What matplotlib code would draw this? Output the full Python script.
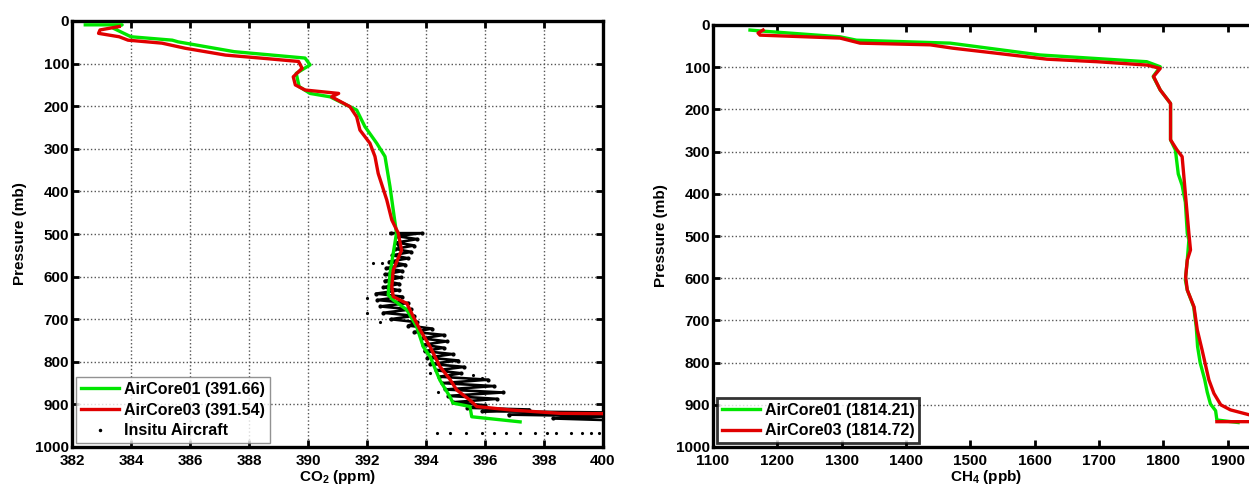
import numpy as np
import matplotlib
matplotlib.use("Agg")
import matplotlib.pyplot as plt

plt.rcParams['font.family'] = ['Liberation Sans', 'DejaVu Sans']
plt.rcParams['font.weight'] = 'bold'
plt.rcParams['mathtext.fontset'] = 'custom'
plt.rcParams['mathtext.rm'] = 'Liberation Sans:bold'
plt.rcParams['mathtext.default'] = 'rm'

GREEN = '#00e600'
RED = '#e00000'

# ---- CO2 panel ----
co2_ac01 = [382.45, 383.7, 383.4, 384.0, 385.4, 385.6, 387.5, 389.9, 390.07, 389.6,
            389.7, 390.07, 390.75, 391.65, 391.93, 392.33, 392.61, 392.78, 392.89, 393.0,
            392.89, 392.78, 392.72, 392.89, 393.35, 393.68, 393.91, 394.14, 394.47, 394.81,
            394.92, 395.49, 395.55, 397.19]
p_co2_ac01 = [9, 9, 17, 37, 45, 49, 72, 87, 103, 123,
              154, 170, 178, 209, 248, 287, 318, 389, 444, 498,
              545, 592, 643, 655, 678, 717, 765, 788, 843, 882,
              897, 905, 929, 941]

co2_ac03 = [383.6, 382.95, 382.9, 383.6, 383.9, 385.05, 385.84, 387.2, 388.55, 389.68,
            389.8, 389.5, 389.57, 389.9, 391.04, 390.8, 391.42, 391.65, 391.76, 392.1,
            392.27, 392.38, 392.67, 392.84, 393.06, 393.17, 392.89, 392.84, 392.89, 393.35,
            393.57, 393.8, 394.14, 394.47, 394.8, 395.04, 395.49, 395.72, 396.85, 398.54,
            400.5]
p_co2_ac03 = [13, 21, 29, 37, 45, 52, 64, 80, 88, 95,
              111, 131, 150, 162, 170, 178, 201, 225, 256, 287,
              318, 358, 420, 467, 498, 538, 585, 624, 647, 663,
              694, 725, 765, 811, 840, 866, 890, 905, 913, 921,
              922]

# aircraft track (porpoising profile, read as a zig-zag band)
co2_air = [392.8, 393.85, 393.0, 393.7, 393.0, 393.6, 392.95, 393.5, 392.85, 393.4,
           392.75, 393.3, 392.65, 393.2, 392.6, 393.15, 392.6, 393.1, 392.55, 393.1,
           392.3, 393.2, 392.35, 393.4, 392.45, 393.5, 392.55, 393.6, 392.8, 393.7,
           393.4, 394.2, 393.6, 394.6, 393.85, 394.7, 393.9, 394.6, 393.95, 394.9,
           394.05, 395.1, 394.15, 395.3, 394.35, 395.2, 394.45, 396.1, 394.55, 396.3,
           394.65, 396.6, 394.75, 396.4, 394.9, 396.0, 395.4, 397.5, 395.9, 400.2,
           396.8, 400.2, 398.3, 400.2]
p_air = [498, 498, 505, 512, 520, 527, 535, 542, 550, 557,
         565, 572, 580, 587, 595, 602, 610, 617, 625, 632,
         640, 647, 655, 662, 670, 677, 685, 692, 700, 707,
         715, 722, 730, 737, 745, 752, 760, 767, 775, 782,
         790, 797, 805, 812, 820, 827, 835, 842, 850, 857,
         865, 872, 880, 887, 895, 902, 908, 912, 916, 919,
         924, 928, 933, 937]

# isolated aircraft points
co2_air_pts = [392.2, 392.5, 392.0, 391.99, 392.44, 393.05, 394.14, 394.4, 395.6, 395.9,
               394.36, 394.8, 395.35, 395.9, 396.3, 396.7, 397.2, 397.7, 398.1, 398.4,
               398.9, 399.3, 399.6, 399.85]
p_air_pts = [568, 568, 650, 686, 706, 526, 826, 871, 830, 838,
             966, 966, 966, 966, 966, 966, 966, 966, 966, 966,
             966, 966, 966, 966]

# ---- CH4 panel ----
ch4_ac01 = [1157.5, 1173, 1297.5, 1323, 1468.6, 1608, 1774, 1795, 1784, 1795,
            1811, 1811, 1818.5, 1823, 1829, 1834, 1837, 1839.5, 1837, 1834,
            1837, 1847, 1851, 1853, 1857, 1864, 1868, 1873, 1881, 1883, 1916]
p_ch4_ac01 = [12, 14, 28, 36, 43, 71, 87, 99, 122, 154,
              186, 272, 296, 353, 380, 420, 494, 509, 557, 604,
              628, 668, 717, 762, 800, 840, 870, 898, 914, 936, 942]

ch4_ac03 = [1177.8, 1170, 1173, 1297.5, 1328.6, 1437.5, 1473, 1541, 1619, 1697,
            1774.6, 1795, 1784.6, 1795, 1811, 1811, 1821, 1829, 1834, 1839.5,
            1842, 1837, 1834.5, 1837, 1847.5, 1852.6, 1860, 1870.6, 1878.4, 1889,
            1904, 1934, 1965, 1945, 1883]
p_ch4_ac03 = [12, 19, 24, 31, 43, 47, 55, 67, 81, 87,
              95, 103, 122, 154, 186, 272, 296, 312, 399, 494,
              533, 557, 597, 628, 668, 723, 770, 841, 873, 900,
              912, 924, 932, 940, 940]

co2_ticks = np.arange(382, 401, 2)
ch4_ticks = np.arange(1100, 1901, 100)
p_ticks = np.arange(0, 1001, 100)

W, H = 1249, 491
fig = plt.figure(figsize=(W / 100, H / 100), dpi=100)
ax1 = fig.add_axes([72 / W, 44 / H, 531 / W, 426 / H])
ax2 = fig.add_axes([713 / W, 44 / H, 547 / W, 422 / H])


def style_axes(ax, xgrid=True):
    for s in ax.spines.values():
        s.set_linewidth(2.4)
    ax.tick_params(direction='in', top=True, right=True, length=5, width=2,
                   labelsize=11, pad=2)
    ax.tick_params(axis='x', pad=5)
    for lab in ax.get_xticklabels() + ax.get_yticklabels():
        lab.set_fontweight('bold')
    ax.set_ylim(1000, 0)
    ax.set_yticks(p_ticks)
    ax.grid(axis='y', linestyle=':', color='#555555', linewidth=1.0)
    if xgrid:
        ax.grid(axis='x', linestyle=':', color='#555555', linewidth=1.0)
    ax.set_axisbelow(True)
    ax.set_ylabel('Pressure (mb)', fontsize=11, fontweight='bold', labelpad=6)


# left: CO2
ax1.plot(co2_air, p_air, color='k', lw=1.9, marker='.', ms=4, zorder=2)
ax1.plot(co2_air_pts, p_air_pts, 'k.', ms=2.5, zorder=2)
ax1.plot(co2_ac01, p_co2_ac01, color=GREEN, lw=2.4, zorder=3, label='AirCore01 (391.66)')
ax1.plot(co2_ac03, p_co2_ac03, color=RED, lw=2.4, zorder=4, label='AirCore03 (391.54)')
ax1.plot([], [], 'k.', ms=3, label='Insitu Aircraft')
ax1.set_xlim(382, 400)
ax1.set_xticks(co2_ticks)
style_axes(ax1, xgrid=True)
ax1.set_xlabel('CO$_2$ (ppm)', fontsize=11, fontweight='bold', labelpad=0)
leg1 = ax1.legend(loc='lower left', fontsize=11.5, handlelength=2.4, borderaxespad=0.25,
                  labelspacing=0.35, handletextpad=0.3, borderpad=0.3, fancybox=False)
leg1.get_frame().set_edgecolor('#777777')
leg1.get_frame().set_linewidth(1.0)
for t in leg1.get_texts():
    t.set_fontweight('bold')

# right: CH4
ax2.plot(ch4_ac01, p_ch4_ac01, color=GREEN, lw=2.4, zorder=3, label='AirCore01 (1814.21)')
ax2.plot(ch4_ac03, p_ch4_ac03, color=RED, lw=2.4, zorder=4, label='AirCore03 (1814.72)')
ax2.set_xlim(1100, 1950)
ax2.set_xticks(ch4_ticks)
style_axes(ax2, xgrid=False)
ax2.set_xlabel('CH$_4$ (ppb)', fontsize=11, fontweight='bold', labelpad=0)
leg2 = ax2.legend(loc='lower left', fontsize=11.5, handlelength=2.4, borderaxespad=0.25,
                  labelspacing=0.35, handletextpad=0.3, borderpad=0.3, fancybox=False)
leg2.get_frame().set_edgecolor('k')
leg2.get_frame().set_linewidth(2.0)
for t in leg2.get_texts():
    t.set_fontweight('bold')

fig.savefig('out.png', dpi=100)
